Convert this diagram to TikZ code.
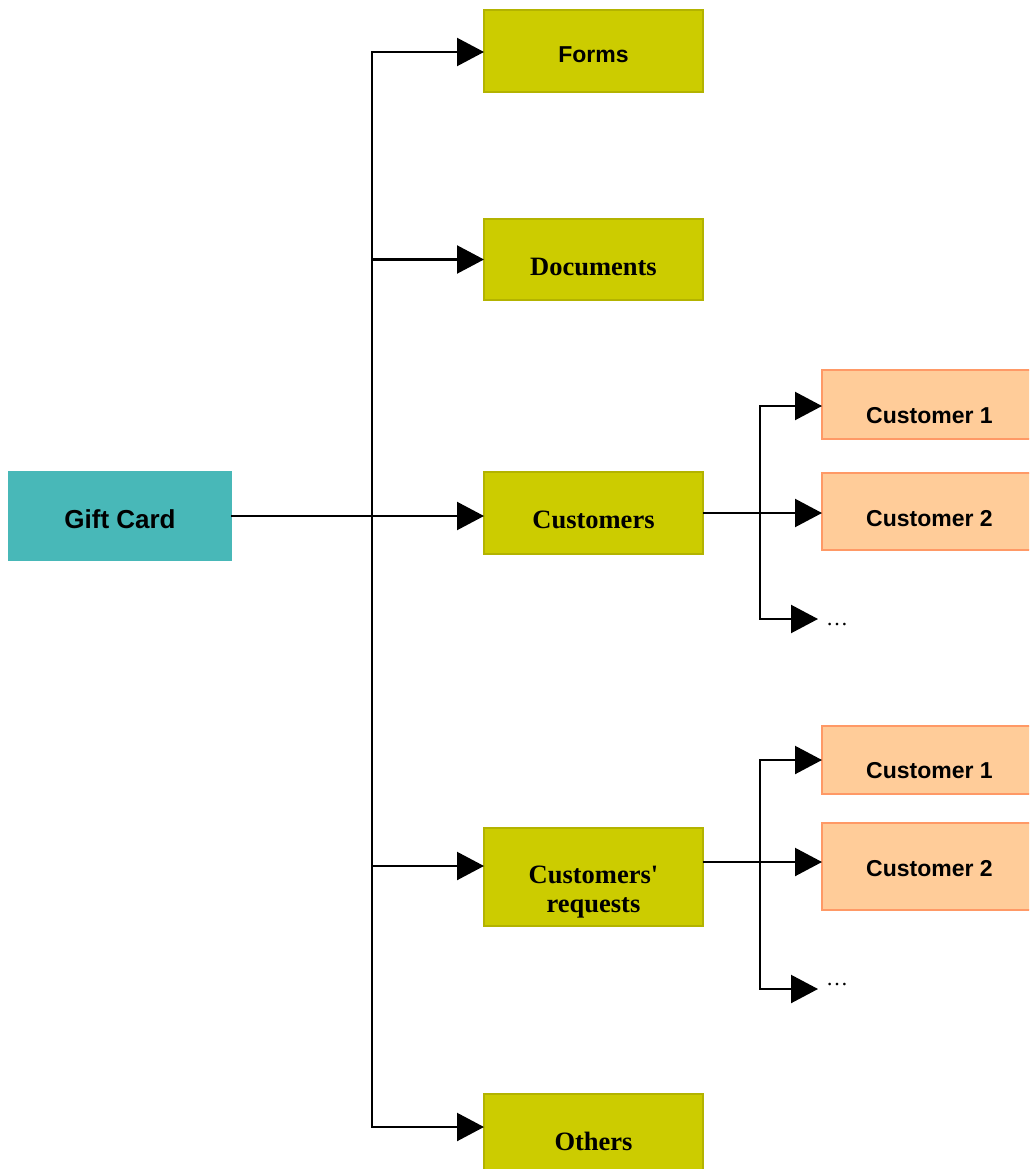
\documentclass[tikz,border=0pt]{standalone}
\usepackage{fontspec}
\setmainfont{Liberation Serif}
\setsansfont{Liberation Sans}
\usetikzlibrary{arrows.meta}

\definecolor{giftfill}{HTML}{48B8B8}
\definecolor{topicfill}{HTML}{CCCC00}
\definecolor{topicline}{HTML}{B3B300}
\definecolor{memberfill}{HTML}{FFCC99}
\definecolor{memberline}{HTML}{FF9966}

% invisible strut: height #1pt above the baseline, depth #2pt below it
\newcommand{\boxstrut}[2]{\rule[-#2pt]{0pt}{\dimexpr#1pt+#2pt\relax}}

\begin{document}
\begin{tikzpicture}[x=1pt,y=-1pt,
  every node/.style={inner sep=0pt, outer sep=0pt},
  box/.style={rectangle, draw, line width=1.6pt, anchor=north west, align=center},
  root/.style={box, fill=giftfill, draw=giftfill, minimum width=222pt,
    font=\sffamily\bfseries\fontsize{26}{31}\selectfont},
  topic/.style={box, fill=topicfill, draw=topicline, minimum width=219pt},
  topicsans/.style={topic, font=\sffamily\bfseries\fontsize{23}{27.6}\selectfont},
  topicserif/.style={topic, font=\rmfamily\bfseries\fontsize{26.5}{29.5}\selectfont},
  member/.style={box, fill=memberfill, draw=memberline, minimum width=215pt,
    font=\sffamily\bfseries\fontsize{23}{27.6}\selectfont},
  more/.style={anchor=base west, inner xsep=8pt, font=\rmfamily\fontsize{22}{26}\selectfont},
  link/.style={line width=2.2pt},
  tip/.style={link, -{Triangle[length=27pt,width=28pt]}},
]
\useasboundingbox (0,0) rectangle (1029,1169);
\clip (0,0) rectangle (1029,1169);
\fill[white] (0,0) rectangle (1029,1169);

% root and first-level topics
\node[root] (gift) at (9,472) {\boxstrut{56}{32}Gift Card};
\node[topicsans] (forms) at (484,10) {\boxstrut{53}{29}Forms};
\node[topicserif] (docs) at (484,219) {\boxstrut{56}{25}Documents};
\node[topicserif] (cust) at (484,472) {\boxstrut{56}{26}Customers};
\node[topicserif] (req) at (484,828) {\boxstrut{55}{0}Customers\textquotesingle\\requests\boxstrut{0}{13.5}};
\node[topicserif] (others) at (484,1094) {\boxstrut{56}{26}Others};

% second-level entries
\node[member] (c1a) at (822,370) {\boxstrut{53}{16}Customer 1};
\node[member] (c2a) at (822,473) {\boxstrut{53}{24}Customer 2};
\node[more] (dotsa) at (818,625) {…};
\node[member] (c1b) at (822,726) {\boxstrut{52}{16}Customer 1};
\node[member] (c2b) at (822,823) {\boxstrut{53}{34}Customer 2};
\node[more] (dotsb) at (818,985) {…};

% main trunk
\coordinate (trunkTop) at (372,52);
\coordinate (trunkBot) at (372,1127);
\coordinate (reqIn) at (372,866);
\draw[link, line cap=rect] (trunkTop) -- (trunkBot);
\draw[tip] (trunkTop) -- (trunkTop -| forms.west);
\draw[tip] (docs.west -| trunkTop) -- (docs.west);
\draw[tip] (gift.east) -- (gift.east -| cust.west);
\draw[tip] (reqIn) -- (reqIn -| req.west);
\draw[tip] (trunkBot) -- (trunkBot -| others.west);

% customers branch
\coordinate (subAtop) at (760,406);
\coordinate (subAbot) at (760,619);
\draw[tip] (cust.east) -- (cust.east -| c2a.west);
\draw[link, line cap=rect] (subAtop) -- (subAbot);
\draw[tip] (subAtop) -- (subAtop -| c1a.west);
\draw[tip] (subAbot) -- (subAbot -| dotsa.west);

% customers' requests branch
\coordinate (subB) at (760,862);
\coordinate (subBtop) at (760,760);
\coordinate (subBbot) at (760,989);
\draw[tip] (req.east |- subB) -- (subB -| c2b.west);
\draw[link, line cap=rect] (subBtop) -- (subBbot);
\draw[tip] (subBtop) -- (subBtop -| c1b.west);
\draw[tip] (subBbot) -- (subBbot -| dotsb.west);
\end{tikzpicture}
\end{document}
